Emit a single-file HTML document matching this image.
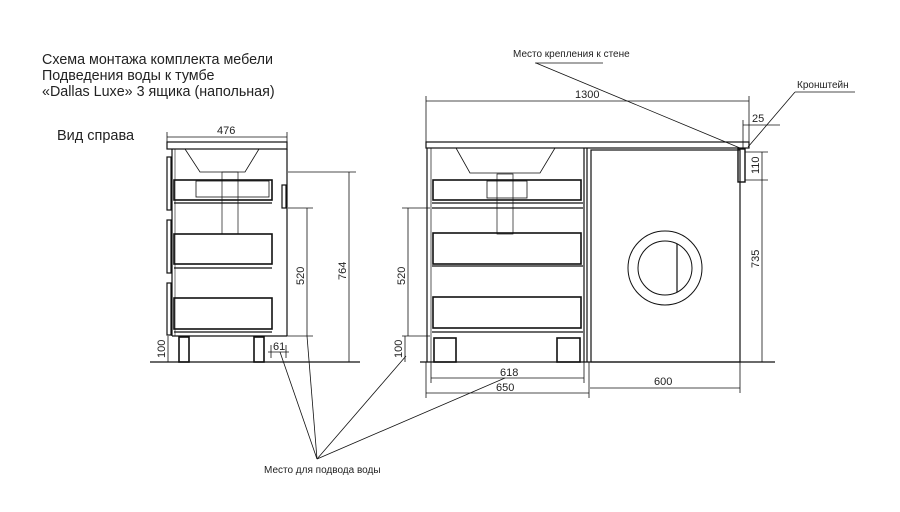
<!DOCTYPE html>
<html><head><meta charset="utf-8"><style>
html,body{margin:0;padding:0;background:#fff;}
svg{display:block;}
text{font-family:"Liberation Sans",sans-serif;fill:#222;}
</style></head><body>
<svg width="900" height="512" viewBox="0 0 900 512" xmlns="http://www.w3.org/2000/svg">
<g font-size="14.3">
<text x="42" y="64">Схема монтажа комплекта мебели</text>
<text x="42" y="80">Подведения воды к тумбе</text>
<text x="42" y="96">«Dallas Luxe» 3 ящика (напольная)</text>
</g>
<text x="57" y="140" font-size="14.5">Вид справа</text>

<!-- LEFT VIEW -->
<g stroke="#111" fill="none" stroke-width="1.2">
<rect x="167" y="142" width="120" height="7"/>
<line x1="172" y1="149" x2="172" y2="336"/>
<line x1="287" y1="149" x2="287" y2="336"/>
<line x1="175" y1="149" x2="175" y2="336" stroke-width="0.6"/>
<rect x="167" y="157" width="4" height="53"/>
<rect x="167" y="220" width="4" height="53"/>
<rect x="167" y="283" width="4" height="52"/>
<polyline points="185,149 200,172 245,172 259,149" stroke-width="0.8"/>
<rect x="222" y="172" width="16" height="62" stroke-width="0.7"/>
<rect x="174" y="180" width="98" height="20" stroke-width="1.6"/>
<rect x="196" y="181" width="73" height="16" stroke-width="0.8"/>
<line x1="174" y1="203" x2="272" y2="203"/>
<rect x="174" y="234" width="98" height="30" stroke-width="1.6"/>
<line x1="174" y1="268" x2="272" y2="268"/>
<rect x="174" y="298" width="98" height="31" stroke-width="1.6"/>
<line x1="174" y1="332" x2="272" y2="332"/>
<rect x="282" y="185" width="4" height="23"/>
<line x1="172" y1="336" x2="287" y2="336"/>
<rect x="179" y="337" width="10" height="25" stroke-width="1.6"/>
<rect x="254" y="337" width="10" height="25" stroke-width="1.6"/>
</g>

<!-- RIGHT VIEW -->
<g stroke="#111" fill="none" stroke-width="1.2">
<rect x="426" y="142" width="323" height="6"/>
<line x1="427" y1="148" x2="427" y2="362"/>
<line x1="431" y1="148" x2="431" y2="362" stroke-width="0.7"/>
<line x1="584" y1="148" x2="584" y2="362"/>
<line x1="587" y1="148" x2="587" y2="362"/>
<polyline points="456,148 470,173 540,173 555,148" stroke-width="0.8"/>
<rect x="497" y="174" width="16" height="60" stroke-width="0.7"/>
<rect x="433" y="180" width="148" height="20" stroke-width="1.6"/>
<rect x="487" y="181" width="40" height="17" stroke-width="0.8"/>
<line x1="432" y1="203" x2="583" y2="203"/>
<line x1="432" y1="208" x2="583" y2="208"/>
<rect x="433" y="233" width="148" height="31" stroke-width="1.6"/>
<line x1="432" y1="266" x2="583" y2="266"/>
<rect x="433" y="297" width="148" height="31" stroke-width="1.6"/>
<line x1="432" y1="332" x2="583" y2="332"/>
<rect x="434" y="338" width="22" height="24" stroke-width="1.6"/>
<rect x="557" y="338" width="23" height="24" stroke-width="1.6"/>
<rect x="591" y="150" width="149" height="212"/>
<circle cx="665" cy="268" r="37" stroke-width="1"/>
<circle cx="665" cy="268" r="27" stroke-width="1"/>
<line x1="677" y1="244" x2="677" y2="292"/>
<rect x="738" y="149" width="7" height="33" stroke-width="1.4"/>
<line x1="420" y1="362" x2="775" y2="362"/>
<line x1="150" y1="362" x2="360" y2="362"/>
</g>

<!-- DIMENSIONS -->
<g stroke="#111" stroke-width="0.8" fill="none">
<line x1="167" y1="137" x2="287" y2="137"/><line x1="167" y1="132" x2="167" y2="142"/><line x1="287" y1="132" x2="287" y2="142"/>
<line x1="288" y1="172" x2="356" y2="172"/><line x1="349" y1="172" x2="349" y2="362"/>
<line x1="288" y1="208" x2="313" y2="208"/><line x1="307" y1="208" x2="307" y2="336"/><line x1="287" y1="336" x2="313" y2="336"/>
<line x1="168" y1="336" x2="168" y2="362"/>
<line x1="268" y1="352" x2="289" y2="352"/><line x1="271" y1="345" x2="271" y2="358"/><line x1="286" y1="345" x2="286" y2="358"/>
<line x1="426" y1="101" x2="749" y2="101"/><line x1="426" y1="96" x2="426" y2="142"/><line x1="749" y1="96" x2="749" y2="142"/>
<line x1="743" y1="120" x2="743" y2="148"/><line x1="743" y1="125" x2="780" y2="125"/>
<line x1="745" y1="152" x2="768" y2="152"/><line x1="745" y1="180" x2="768" y2="180"/><line x1="762" y1="152" x2="762" y2="362"/>
<line x1="402" y1="208" x2="430" y2="208"/><line x1="408" y1="208" x2="408" y2="336"/><line x1="402" y1="336" x2="430" y2="336"/>
<line x1="405" y1="336" x2="405" y2="362"/>
<line x1="431" y1="378" x2="584" y2="378"/><line x1="431" y1="362" x2="431" y2="383"/><line x1="584" y1="362" x2="584" y2="383"/>
<line x1="426" y1="393" x2="589" y2="393"/><line x1="426" y1="362" x2="426" y2="398"/><line x1="589" y1="362" x2="589" y2="398"/>
<line x1="590" y1="388" x2="740" y2="388"/><line x1="740" y1="362" x2="740" y2="393"/>
<line x1="317" y1="459" x2="280" y2="352"/>
<line x1="317" y1="459" x2="307" y2="336"/>
<line x1="317" y1="459" x2="406" y2="356"/>
<line x1="317" y1="459" x2="505" y2="378"/>
<line x1="535" y1="63" x2="603" y2="63"/><line x1="536" y1="63" x2="740" y2="148"/>
<line x1="795" y1="92" x2="855" y2="92"/><line x1="795" y1="92" x2="748" y2="147"/>
</g>

<g font-size="11">
<text x="217" y="134">476</text>
<text x="575" y="98">1300</text>
<text x="752" y="122">25</text>
<text x="273" y="350">61</text>
<text x="500" y="376">618</text>
<text x="496" y="391">650</text>
<text x="654" y="385">600</text>
<text transform="translate(346,280) rotate(-90)">764</text>
<text transform="translate(304,285) rotate(-90)">520</text>
<text transform="translate(405,285) rotate(-90)">520</text>
<text transform="translate(165,358) rotate(-90)">100</text>
<text transform="translate(402,358) rotate(-90)">100</text>
<text transform="translate(759,174) rotate(-90)">110</text>
<text transform="translate(759,268) rotate(-90)">735</text>
</g>
<g font-size="10">
<text x="513" y="57">Место крепления к стене</text>
<text x="797" y="88">Кронштейн</text>
<text x="264" y="473">Место для подвода воды</text>
</g>
</svg>
</body></html>
